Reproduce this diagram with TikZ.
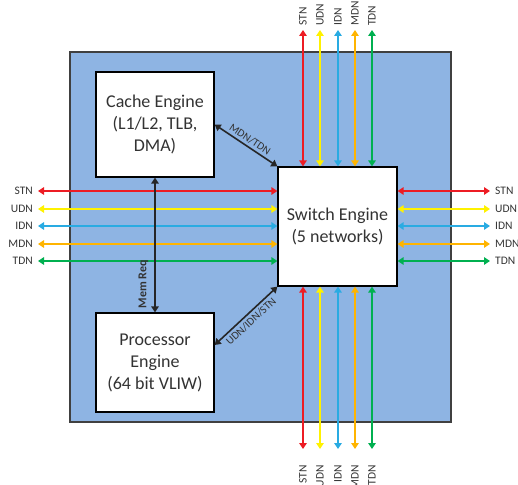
\documentclass[tikz,border=0pt]{standalone}
\usepackage{fontspec}
\setmainfont{Carlito}
\usetikzlibrary{arrows.meta,calc}

\definecolor{tileblue}{HTML}{8EB4E3}
\definecolor{stncol}{HTML}{ED1C24}
\definecolor{udncol}{HTML}{FFF200}
\definecolor{idncol}{HTML}{29ABE2}
\definecolor{mdncol}{HTML}{FFB400}
\definecolor{tdncol}{HTML}{00B050}

\tikzset{
	tile/.style = {draw = black!75, line width = 1.6pt, fill = tileblue, minimum width = 381pt, minimum height = 370pt},
	engine/.style = {draw = black, line width = 1.3pt, fill = white, align = center, inner sep = 0pt, text = black!80, font = \fontsize{18}{22}\selectfont},
	net/.style = {line width = 2pt, {Triangle[length = 6pt, width = 7.5pt]}-{Triangle[length = 6pt, width = 7.5pt]}},
	link/.style = {line width = 1.6pt, draw = black!85, {Triangle[length = 6pt, width = 7.5pt]}-{Triangle[length = 6pt, width = 7.5pt]}},
	netlabel/.style = {inner sep = 1pt, text = black!80, font = \fontsize{11.5}{13}\selectfont},
	linklabel/.style = {inner sep = 2.5pt, text = black!80, font = \fontsize{11}{12}\selectfont}
}

\begin{document}
\begin{tikzpicture}[x = 1pt, y = 1pt]

	\useasboundingbox (0, 0) rectangle (518, 484);

	% Tile
	
	\node [tile] (tile) at (260.5, 247) {};
	
	% Engines
	
	\node [engine, minimum width = 118pt, minimum height = 105pt] (cache) at (155, 359.5) {Cache Engine\\(L1/L2, TLB,\\DMA)};
	\node [engine, minimum width = 118pt, minimum height = 99pt] (proc) at (155, 121.5) {Processor\\Engine\\(64 bit VLIW)};
	\node [engine, minimum width = 119pt, minimum height = 119pt] (switch) at (337.5, 257.5) {Switch Engine\\(5 networks)};
	
	% Networks on all four sides of the switch
	
	\foreach \i/\name/\col/\xv/\yh in {0/STN/stncol/303/293, 1/UDN/udncol/320/275, 2/IDN/idncol/338/258, 3/MDN/mdncol/355/240, 4/TDN/tdncol/372/223} {
		\coordinate (top\i) at (\xv, 454);
		\coordinate (bot\i) at (\xv, 35);
		\coordinate (west\i) at (38, \yh);
		\coordinate (east\i) at (490, \yh);
		\draw [net, \col] (top\i) -- (top\i |- switch.north);
		\draw [net, \col] (bot\i) -- (bot\i |- switch.south);
		\draw [net, \col] (west\i) -- (west\i -| switch.west);
		\draw [net, \col] (east\i) -- (east\i -| switch.east);
		\node [netlabel, rotate = 90, anchor = west] (ltop\i) at ($(top\i) + (0, 3)$) {\name};
		\node [netlabel, rotate = 90, anchor = east] (lbot\i) at ($(bot\i) + (0, -15)$) {\name};
		\node [netlabel, anchor = east] (lwest\i) at ($(west\i) + (-4, 0)$) {\name};
		\node [netlabel, anchor = west] (least\i) at ($(east\i) + (4, 0)$) {\name};
	}
	
	% Links between the engines
	
	\draw [link] (cache.south) -- node [linklabel, pos = 0.79, rotate = 90, anchor = south, inner sep = 6pt, font = \fontsize{12}{14}\selectfont\bfseries] (memreq) {Mem Req} (proc.north);
	\draw [link] (cache.east) -- node [linklabel, sloped, above] (cachelink) {MDN/TDN} (switch.north west);
	\draw [link] ($(proc.east) + (0, 17.5)$) -- node [linklabel, sloped, below] (proclink) {UDN/IDN/STN} (switch.south west);

\end{tikzpicture}
\end{document}
